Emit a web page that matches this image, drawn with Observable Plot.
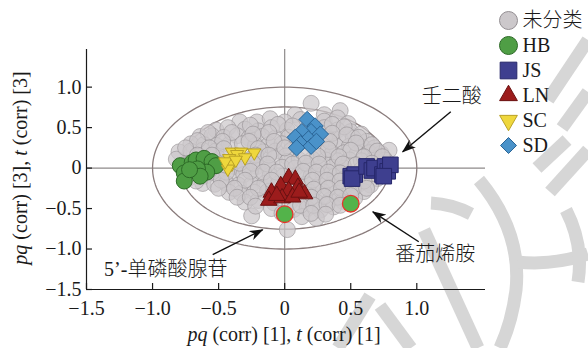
<!DOCTYPE html>
<html>
<head>
<meta charset="utf-8">
<script src="https://cdn.jsdelivr.net/npm/d3@7"></script>
<script src="https://cdn.jsdelivr.net/npm/@observablehq/plot@0.6"></script>
<style>
  body { margin: 0; background: #fff; }
  #chart { position: relative; width: 588px; height: 348px; overflow: hidden; background: #fff; }
  #chart > svg { position: absolute; left: 0; top: 0; }
</style>
</head>
<body>
<div id="chart"></div>
<script>
// Loadings / scores on components 1 and 3 (pq(corr), t(corr))
const unclassified = [
  [0.20,0.80],[0.42,0.71],[0.08,0.66],[0.30,0.66],
  [-0.34,0.57],[-0.21,0.57],[-0.11,0.61],[0.00,0.57],[0.12,0.60],[0.30,0.58],[0.40,0.62],[0.48,0.55],
  [-0.52,0.47],[-0.43,0.50],[-0.30,0.48],[-0.20,0.46],[-0.10,0.50],[0.02,0.47],[0.30,0.50],[0.40,0.47],[0.50,0.45],[0.58,0.42],
  [-0.64,0.39],[-0.55,0.40],[-0.46,0.38],[-0.36,0.40],[-0.27,0.37],[-0.17,0.39],[-0.07,0.37],[0.03,0.38],[0.32,0.38],[0.42,0.36],[0.52,0.37],[0.62,0.33],
  [-0.71,0.30],[-0.61,0.29],[-0.52,0.28],[-0.42,0.29],[-0.32,0.30],[-0.22,0.28],[-0.12,0.29],[-0.02,0.30],[0.05,0.22],[0.30,0.28],[0.39,0.27],[0.49,0.27],[0.59,0.26],[0.68,0.25],
  [-0.80,0.20],[-0.71,0.21],[-0.62,0.22],[-0.52,0.21],[-0.16,0.20],[-0.07,0.21],[0.01,0.15],[0.28,0.19],[0.36,0.18],[0.45,0.19],[0.55,0.18],[0.64,0.19],[0.73,0.18],[0.79,0.22],
  [-0.82,0.11],[-0.50,0.12],[-0.26,0.11],[-0.17,0.11],[-0.08,0.12],[0.02,0.08],[0.11,0.10],[0.21,0.11],[0.31,0.10],[0.40,0.09],[0.49,0.10],[0.58,0.09],[0.68,0.12],[0.76,0.10],
  [-0.48,0.00],[-0.38,0.02],[-0.30,0.00],[-0.21,0.02],[-0.12,0.00],[-0.02,0.01],[0.08,0.00],[0.18,0.02],[0.27,0.00],[0.36,0.01],[0.45,0.00],[0.58,-0.02],[0.72,0.02],
  [-0.72,-0.12],[-0.60,-0.10],[-0.50,-0.09],[-0.40,-0.10],[-0.31,-0.08],[-0.21,-0.10],[-0.11,-0.09],[-0.01,-0.10],[0.10,-0.09],[0.20,-0.10],[0.29,-0.08],[0.38,-0.10],[0.46,-0.12],[0.62,-0.11],[0.70,-0.13],
  [-0.62,-0.19],[-0.53,-0.20],[-0.44,-0.19],[-0.35,-0.21],[-0.25,-0.20],[-0.15,-0.19],[-0.05,-0.20],[0.06,-0.19],[0.16,-0.20],[0.26,-0.21],[0.36,-0.20],[0.46,-0.21],[0.56,-0.20],[0.65,-0.21],
  [-0.42,-0.30],[-0.33,-0.31],[-0.23,-0.30],[-0.13,-0.29],[-0.02,-0.30],[0.09,-0.31],[0.19,-0.30],[0.29,-0.29],[0.39,-0.31],[0.49,-0.30],[0.60,-0.29],
  [-0.30,-0.42],[-0.20,-0.40],[-0.08,-0.43],[0.04,-0.42],[0.14,-0.40],[0.24,-0.42],[0.34,-0.40],[0.44,-0.41],[0.53,-0.37],
  [-0.10,-0.50],[0.07,-0.51],[0.17,-0.50],[0.27,-0.52],[0.37,-0.48],
  [-0.25,-0.59],[0.13,-0.60],[0.24,-0.62],
  [0.02,-0.76],
  // second layer, between the rows above
  [-0.26,0.53],[-0.05,0.54],[0.06,0.52],[0.36,0.54],[0.45,0.51],
  [-0.58,0.44],[-0.40,0.44],[-0.24,0.42],[-0.12,0.44],[0.36,0.43],[0.47,0.41],[0.56,0.38],
  [-0.66,0.34],[-0.47,0.33],[-0.27,0.33],[-0.08,0.33],[0.34,0.33],[0.54,0.31],[0.66,0.29],
  [-0.75,0.25],[-0.57,0.25],[-0.46,0.24],[-0.20,0.24],[0.00,0.25],[0.33,0.23],[0.50,0.22],[0.70,0.21],
  [-0.66,0.16],[-0.55,0.16],[-0.22,0.16],[-0.12,0.16],[0.16,0.15],[0.25,0.15],[0.41,0.14],[0.60,0.14],[0.74,0.14],
  [-0.34,0.06],[-0.24,0.06],[-0.13,0.05],[0.06,0.05],[0.16,0.06],[0.26,0.05],[0.44,0.05],[0.54,0.04],[0.66,0.06],
  [-0.55,-0.05],[-0.44,-0.05],[-0.26,-0.04],[-0.16,-0.05],[-0.06,-0.05],[0.14,-0.04],[0.24,-0.05],[0.33,-0.05],[0.42,-0.06],[0.68,-0.07],
  [-0.67,-0.16],[-0.48,-0.15],[-0.30,-0.15],[-0.10,-0.15],[0.21,-0.15],[0.32,-0.15],[0.42,-0.16],[0.60,-0.16],
  [-0.50,-0.25],[-0.38,-0.25],[-0.20,-0.25],[0.22,-0.26],[0.33,-0.25],[0.43,-0.25],[0.52,-0.25],[0.62,-0.25],
  [-0.36,-0.36],[-0.26,-0.36],[0.20,-0.36],[0.30,-0.35],[0.40,-0.36],[0.50,-0.34],
  [-0.22,-0.47],[0.12,-0.46],[0.22,-0.46],[0.32,-0.45],[0.42,-0.46],
  [-0.02,-0.56],[0.20,-0.56],[0.31,-0.57]
];
const hb = [[-0.79,0.03],[-0.76,-0.06],[-0.76,-0.16],[-0.70,0.07],[-0.67,0.10],[-0.61,0.12],[-0.55,0.08],[-0.52,0.03],[-0.59,-0.05],[-0.66,-0.01],[-0.64,-0.10],[-0.72,-0.02]];
const js = [[0.50,-0.10],[0.53,-0.08],[0.51,-0.13],[0.62,0.02],[0.66,-0.03],[0.68,0.00],[0.74,-0.08],[0.76,0.02],[0.78,-0.04],[0.80,0.04],[0.75,-0.10]];
const ln = [[0.03,-0.12],[0.08,-0.14],[-0.03,-0.22],[-0.10,-0.30],[-0.12,-0.40],[0.03,-0.28],[0.10,-0.24],[0.15,-0.32],[-0.02,-0.37],[0.06,-0.36],[0.11,-0.30],[-0.06,-0.34]];
const sc = [[-0.40,0.20],[-0.33,0.20],[-0.23,0.19],[-0.36,0.17],[-0.42,0.12],[-0.30,0.13],[-0.40,0.05],[-0.43,-0.01],[-0.45,0.08],[-0.37,0.10]];
const sd = [[0.17,0.60],[0.23,0.52],[0.20,0.45],[0.13,0.45],[0.27,0.42],[0.08,0.38],[0.18,0.36],[0.12,0.30],[0.20,0.27],[0.09,0.25],[0.24,0.33]];
// Marker variables picked out for annotation
const highlighted = [[0.00,-0.57],[0.50,-0.44]];

const xTicks = [-1.5, -1.0, -0.5, 0, 0.5, 1.0];
const yTicks = [-1.5, -1.0, -0.5, 0, 0.5, 1.0];
const ellipseRadii = [[1.0, 1.0], [0.79, 0.755]];

const legendLabels = ["未分类", "HB", "JS", "LN", "SC", "SD"];
const annotations = [
  {label: "壬二酸", x: 1.265, y: 0.88, fromX: 1.257, fromY: 0.695, toX: 0.893, toY: 0.201},
  {label: "5’-单磷酸腺苷", x: -0.90, y: -1.255, fromX: -0.545, fromY: -1.07, toX: -0.167, toY: -0.762},
  {label: "番茄烯胺", x: 1.14, y: -1.07, fromX: 1.015, fromY: -0.91, toX: 0.667, toY: -0.54}
];

const FONT = "'Liberation Serif', 'Times New Roman', 'Noto Sans CJK SC', serif";
const INK = "#1a1a1a";

// Downward-pointing triangle
const triangleDown = {
  draw(context, size) {
    const y = Math.sqrt(size / (Math.sqrt(3) * 3));
    context.moveTo(0, y * 2);
    context.lineTo(-Math.sqrt(3) * y, -y);
    context.lineTo(Math.sqrt(3) * y, -y);
    context.closePath();
  }
};

const styles = {
  "未分类": {symbol: "circle", fill: "#ccc8cb", stroke: "#948f93", r: 8, lr: 9},
  "HB": {symbol: "circle", fill: "#4f9e45", stroke: "#2d6a27", r: 8, lr: 9},
  "JS": {symbol: "square", fill: "#3e3f8f", stroke: "#26276a", r: 8.8, lr: 9.4},
  "LN": {symbol: "triangle", fill: "#9c1c1c", stroke: "#6a1010", r: 6.2, lr: 6.6},
  "SC": {symbol: triangleDown, fill: "#efd73c", stroke: "#b9a126", r: 4.9, lr: 6.6},
  "SD": {symbol: "diamond2", fill: "#4a92c9", stroke: "#2a6496", r: 7.4, lr: 7.2}
};

const ellipsePts = ellipseRadii.flatMap(([rx, ry], k) =>
  d3.range(0, 361, 2).map(a => ({k, x: rx * Math.cos(a * Math.PI / 180), y: ry * Math.sin(a * Math.PI / 180)})));

const fmt = d => d === 0 ? "0" : d.toFixed(1).replace("-", "−");
const X = d => d[0], Y = d => d[1];
const isCJK = s => /[\u4e00-\u9fff]/.test(s);

const groupDot = (data, key, extra = {}) => Plot.dot(data, {
  x: X, y: Y, r: styles[key].r, symbol: styles[key].symbol,
  fill: styles[key].fill, stroke: styles[key].stroke, strokeWidth: 1, ...extra
});

const legendTop = -29, legendStep = 25;

const plot = Plot.plot({
  width: 588,
  height: 348,
  marginTop: 49,
  marginRight: 103,
  marginBottom: 59,
  marginLeft: 86,
  style: {background: "transparent", fontFamily: FONT, fontSize: "20px", color: INK, overflow: "visible"},
  x: {domain: [-1.5, 1.52]},
  y: {domain: [-1.5, 1.465]},
  marks: [
    Plot.ruleX([0], {stroke: "#8e8a8a", strokeWidth: 1.2}),
    Plot.ruleY([0], {stroke: "#8e8a8a", strokeWidth: 1.2}),
    Plot.line(ellipsePts, {x: "x", y: "y", z: "k", stroke: "#8a7c7c", strokeWidth: 1.3}),
    groupDot(unclassified, "未分类", {fillOpacity: 0.72, strokeOpacity: 0.6}),
    groupDot(hb, "HB"),
    groupDot(sc, "SC"),
    groupDot(sd, "SD"),
    groupDot(ln, "LN"),
    groupDot(js, "JS"),
    Plot.dot(highlighted, {x: X, y: Y, r: 8.3, fill: "#53b34a", stroke: "#e6332a", strokeWidth: 1.3}),
    // axes: left and bottom lines with inward ticks
    Plot.ruleX([-1.5], {stroke: INK, strokeWidth: 1.2}),
    Plot.ruleY([-1.5], {stroke: INK, strokeWidth: 1.2}),
    Plot.tickX(xTicks, {x: d => d, insetTop: 234, stroke: INK, strokeWidth: 1.2}),
    Plot.tickY(yTicks, {y: d => d, insetRight: 393, stroke: INK, strokeWidth: 1.2}),
    Plot.axisX(xTicks, {tickSize: 0, tickPadding: 11, tickFormat: fmt, label: null, fill: INK}),
    Plot.axisY(yTicks, {tickSize: 0, tickPadding: 5, tickFormat: fmt, label: null, fill: INK}),
    // annotations
    Plot.link(annotations, {x1: "fromX", y1: "fromY", x2: "toX", y2: "toY", stroke: "#111", strokeWidth: 1.4}),
    Plot.text(annotations, {x: "x", y: "y", text: "label", fontSize: 20, fontFamily: FONT, fontWeight: 300, fill: INK, textAnchor: "middle", lineAnchor: "middle"}),
    // legend
    ...legendLabels.map((name, i) => Plot.dot([name], {
      frameAnchor: "top-right", dx: 23, dy: legendTop + i * legendStep,
      r: styles[name].lr, symbol: styles[name].symbol,
      fill: styles[name].fill, stroke: styles[name].stroke, strokeWidth: 1
    })),
    ...legendLabels.map((name, i) => Plot.text([name], {
      frameAnchor: "top-right", dx: 37, dy: legendTop + i * legendStep,
      text: d => d, textAnchor: "start", lineAnchor: "middle", fontSize: 20, fontFamily: FONT,
      fontWeight: isCJK(name) ? 300 : "normal", fill: INK
    }))
  ]
});

const chart = document.getElementById("chart");

// faint background watermark strokes
const wm = d3.create("svg").attr("width", 588).attr("height", 348).attr("class", "watermark");
const wmPaths = [
  "M431,203 Q452,204 471,214",
  "M479,180 Q522,232 516,290 Q512,322 500,348",
  "M424,230 L478,348",
  "M380,306 L411,348",
  "M338,348 L370,296",
  "M517,262 Q552,266 588,254",
  "M566,210 Q584,245 578,282",
  "M537,168 L567,140",
  "M550,192 L588,150",
  "M588,40 L548,100",
  "M588,92 L562,128"
];
wm.selectAll("path").data(wmPaths).join("path")
  .attr("d", d => d).attr("fill", "none").attr("stroke", "#d6d6d6").attr("stroke-width", 13);
chart.appendChild(wm.node());
chart.appendChild(plot);

const svg = d3.select(plot);

// arrowheads for annotation links
const defs = svg.insert("defs", ":first-child");
defs.append("marker")
  .attr("id", "arrowhead").attr("viewBox", "0 0 14 10").attr("refX", 13).attr("refY", 5)
  .attr("markerWidth", 14).attr("markerHeight", 10).attr("markerUnits", "userSpaceOnUse").attr("orient", "auto")
  .append("path").attr("d", "M0,0 L14,5 L0,10 L4,5 Z").attr("fill", "#111");
svg.selectAll('g[aria-label="link"] path').attr("marker-end", "url(#arrowhead)");

// axis titles with italic symbols
function axisTitle(sel, idx) {
  sel.append("tspan").attr("font-style", "italic").text("pq");
  sel.append("tspan").text(` (corr) [${idx}], `);
  sel.append("tspan").attr("font-style", "italic").text("t");
  sel.append("tspan").text(` (corr) [${idx}]`);
}
svg.append("text")
  .attr("x", 284).attr("y", 341).attr("text-anchor", "middle")
  .attr("font-family", FONT).attr("font-size", 20).attr("fill", INK)
  .call(axisTitle, 1);
svg.append("text")
  .attr("transform", "translate(27,168) rotate(-90)").attr("text-anchor", "middle")
  .attr("font-family", FONT).attr("font-size", 20).attr("fill", INK)
  .call(axisTitle, 3);
</script>
</body>
</html>
